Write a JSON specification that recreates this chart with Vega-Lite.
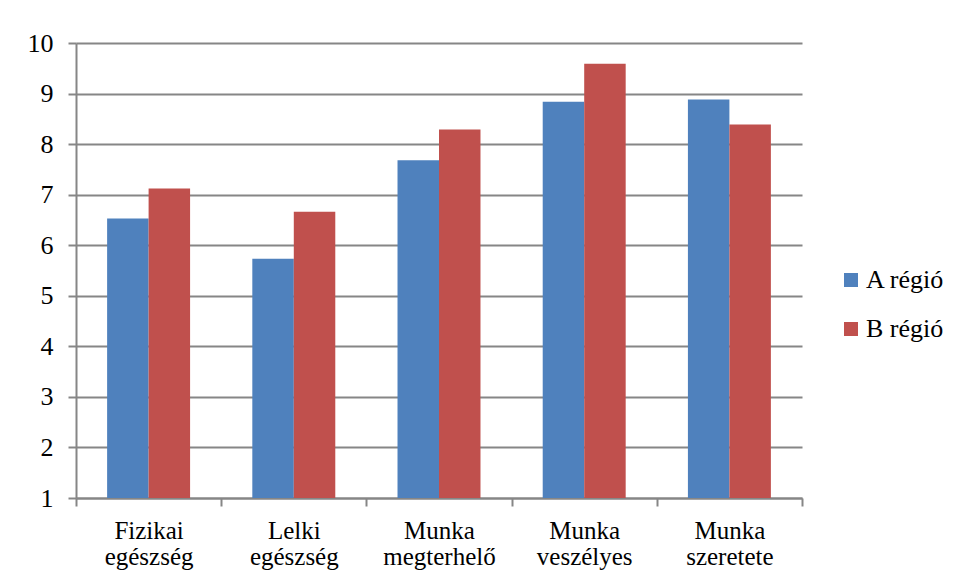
{
  "$schema": "https://vega.github.io/schema/vega-lite/v6.json",
  "width": 726,
  "height": 455,
  "autosize": {"type": "none"},
  "padding": {"left": 76, "top": 43, "right": 154, "bottom": 85},
  "background": "white",
  "data": {
    "values": [
      {"kategoria": "Fizikai egészség", "regio": "A régió", "ertek": 6.53},
      {"kategoria": "Fizikai egészség", "regio": "B régió", "ertek": 7.12},
      {"kategoria": "Lelki egészség", "regio": "A régió", "ertek": 5.73},
      {"kategoria": "Lelki egészség", "regio": "B régió", "ertek": 6.66},
      {"kategoria": "Munka megterhelő", "regio": "A régió", "ertek": 7.68},
      {"kategoria": "Munka megterhelő", "regio": "B régió", "ertek": 8.29},
      {"kategoria": "Munka veszélyes", "regio": "A régió", "ertek": 8.84},
      {"kategoria": "Munka veszélyes", "regio": "B régió", "ertek": 9.59},
      {"kategoria": "Munka szeretete", "regio": "A régió", "ertek": 8.88},
      {"kategoria": "Munka szeretete", "regio": "B régió", "ertek": 8.39}
    ]
  },
  "mark": {"type": "bar", "clip": true},
  "encoding": {
    "x": {
      "field": "kategoria",
      "type": "nominal",
      "sort": null,
      "scale": {"paddingInner": 0, "paddingOuter": 0},
      "axis": {
        "title": null,
        "labelAngle": 0,
        "labelExpr": "split(datum.label, ' ')",
        "labelFont": "Liberation Serif, Times New Roman, serif",
        "labelFontSize": 25,
        "labelColor": "#000000",
        "labelLineHeight": 26,
        "labelPadding": 12,
        "labelBaseline": "top",
        "tickBand": "extent",
        "ticks": true,
        "tickSize": 8,
        "tickColor": "#868686",
        "tickWidth": 2,
        "domainColor": "#868686",
        "domainWidth": 2,
        "grid": false
      }
    },
    "xOffset": {
      "field": "regio",
      "type": "nominal",
      "scale": {"paddingInner": 0, "paddingOuter": 0.75}
    },
    "y": {
      "field": "ertek",
      "type": "quantitative",
      "scale": {"domain": [1, 10], "zero": false, "nice": false},
      "axis": {
        "title": null,
        "values": [1, 2, 3, 4, 5, 6, 7, 8, 9, 10],
        "labelFont": "Liberation Serif, Times New Roman, serif",
        "labelFontSize": 26,
        "labelColor": "#000000",
        "labelPadding": 15,
        "tickSize": 8,
        "tickColor": "#868686",
        "tickWidth": 2,
        "domainColor": "#868686",
        "domainWidth": 2,
        "grid": true,
        "gridColor": "#868686",
        "gridWidth": 2
      }
    },
    "color": {
      "field": "regio",
      "type": "nominal",
      "scale": {"domain": ["A régió", "B régió"], "range": ["#4F81BD", "#C0504D"]},
      "legend": {
        "title": null,
        "orient": "none",
        "legendX": 762,
        "legendY": 224,
        "padding": 0,
        "symbolType": "square",
        "symbolSize": 196,
        "symbolStrokeWidth": 0,
        "labelFont": "Liberation Serif, Times New Roman, serif",
        "labelFontSize": 26,
        "labelColor": "#000000",
        "labelOffset": 2,
        "rowPadding": 23
      }
    }
  },
  "config": {
    "view": {"stroke": null}
  }
}
